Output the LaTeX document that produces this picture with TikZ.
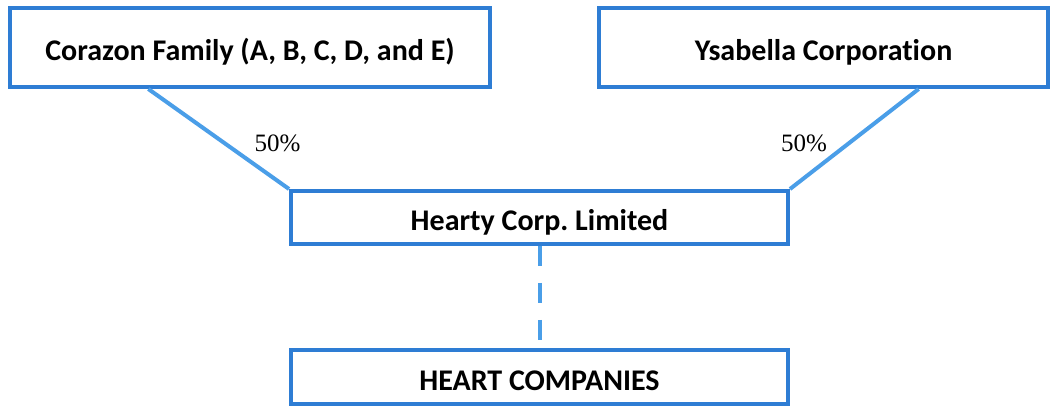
\documentclass[tikz,border=0pt]{standalone}
\usepackage{fontspec}
\setmainfont{Carlito}[Ligatures=NoCommon]
\newfontfamily\pctfont{Liberation Serif}
\usetikzlibrary{calc}
\definecolor{boxblue}{RGB}{46,125,212}
\definecolor{lineblue}{RGB}{74,158,232}
\frenchspacing

\begin{document}
\begin{tikzpicture}[x=1pt,y=1pt,
    owner/.style={draw=boxblue,line width=4pt,rectangle,inner sep=0pt,text height=27pt,text depth=0pt,font=\fontsize{30}{33}\selectfont\bfseries},
    share/.style={draw=lineblue,line width=4pt},
    pct/.style={font=\pctfont\fontsize{25}{28}\selectfont}]
  \useasboundingbox[fill=white] (0,0) rectangle (1056,406);

  \node[owner,minimum width=480pt,minimum height=79pt] (corazon) at (250,358.5) {Corazon Family (A, B, C, D, and E)};
  \node[owner,minimum width=449pt,minimum height=79pt] (ysabella) at (823.5,358.5) {Ysabella Corporation};
  \node[owner,minimum width=497pt,minimum height=53pt] (hearty) at (539.5,188.5) {Hearty Corp. Limited};
  \node[owner,minimum width=497pt,minimum height=54pt] (heart) at (539.5,29) {HEART COMPANIES};

  \draw[share] ($ (corazon.south west) ! 0.29 ! (corazon.south east) $) -- (hearty.north west);
  \draw[share] ($ (ysabella.south west) ! 0.71 ! (ysabella.south east) $) -- (hearty.north east);
  \draw[share,dash pattern=on 20pt off 17pt] (hearty.south) -- (heart.north);

  \node[pct] (pctleft) at (277.5,262.5) {50\%};
  \node[pct] (pctright) at (804,262.5) {50\%};
\end{tikzpicture}
\end{document}
